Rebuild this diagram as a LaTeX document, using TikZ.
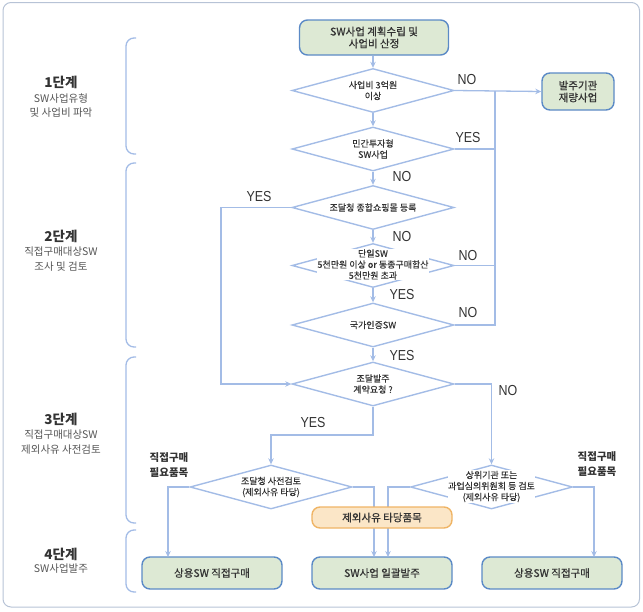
\documentclass[tikz,border=0pt]{standalone}
\usepackage{fontspec}
\setmainfont{Noto Sans CJK KR}
\newfontfamily\medfont[FakeBold=0.7]{Noto Sans CJK KR}
\newfontfamily\semfont[FakeBold=0.3]{Noto Sans CJK KR}
\newfontfamily\narrow[FakeStretch=0.86]{Liberation Sans}
\usetikzlibrary{shapes.geometric,arrows.meta}
\definecolor{lineblue}{HTML}{A3BCE6}
\definecolor{boxblue}{HTML}{5B8AC6}
\definecolor{boxgreen}{HTML}{DDE9D4}
\definecolor{orfill}{HTML}{FBE6C7}
\definecolor{ordraw}{HTML}{EFB465}
\definecolor{framec}{HTML}{B7C3D6}
\definecolor{txt}{HTML}{333333}
\definecolor{subtxt}{HTML}{555555}
\begin{document}
\begin{tikzpicture}[x=1pt,y=-1pt,
 box/.style={draw=boxblue, fill=boxgreen, line width=1.4pt, rounded corners=8pt, align=center, font=\medfont\fontsize{10.5}{12}\selectfont, text=txt, inner sep=0pt},
 obox/.style={draw=ordraw, fill=orfill, line width=1.4pt, rounded corners=8pt, align=center, font=\medfont\fontsize{10.5}{12}\selectfont, text=txt, inner sep=0pt, minimum width=140pt, minimum height=21pt},
 dia/.style={draw=lineblue, line width=1.4pt, shape=diamond, minimum width=162pt, minimum height=44pt, inner sep=0pt},
 dtext/.style={align=center, font=\semfont\fontsize{9}{11}\selectfont, text=txt, inner sep=0pt},
 conn/.style={draw=lineblue, line width=1.3pt},
 arr/.style={conn, -{Stealth[length=6pt,width=5.5pt]}},
 yn/.style={font=\narrow\fontsize{14.5}{14.5}\selectfont, text=txt, inner sep=0pt},
 need/.style={align=center, font=\bfseries\fontsize{10.5}{15}\selectfont, text=txt, inner sep=0pt},
 sthead/.style={font=\bfseries\fontsize{13.5}{15}\selectfont, text=txt, inner sep=0pt},
 stsub/.style={align=center, font=\fontsize{10.5}{14.5}\selectfont, text=subtxt, inner sep=0pt},
 brk/.style={draw=lineblue, line width=1.3pt, rounded corners=8pt}
]
\useasboundingbox (0,0) rectangle (643,611);
\draw[framec, line width=1pt, rounded corners=8pt] (3,2.5) rectangle (639.5,607);

% stage brackets
\draw[brk] (136,38) -- (126,38) -- (126,154) -- (136,154);
\draw[brk] (136,163) -- (126,163) -- (126,347) -- (136,347);
\draw[brk] (136,357) -- (126,357) -- (126,523) -- (136,523);
\draw[brk] (136,530) -- (126,530) -- (126,592) -- (136,592);

% stage labels
\node[sthead] (s1h) at (61,82) {1단계};
\node[stsub] (s1s) at (61,105.5) {SW사업유형\\및 사업비 파악};
\node[sthead] (s2h) at (61,236) {2단계};
\node[stsub] (s2s) at (61,259) {직접구매대상SW\\조사 및 검토};
\node[sthead] (s3h) at (61,419) {3단계};
\node[stsub] (s3s) at (61,442) {직접구매대상SW\\제외사유 사전검토};
\node[sthead] (s4h) at (61,554) {4단계};
\node[stsub] (s4s) at (61,569) {SW사업발주};

% boxes
\node[box, minimum width=149pt, minimum height=35pt] (top) at (374,37.5) {SW사업 계획수립 및\\사업비 산정};
\node[box, minimum width=72pt, minimum height=37pt] (disc) at (578,91.5) {발주기관\\재량사업};
\node[box, minimum width=140pt, minimum height=32pt] (lbox) at (212,573) {상용SW 직접구매};
\node[box, minimum width=140pt, minimum height=32pt] (mbox) at (382,573) {SW사업 일괄발주};
\node[box, minimum width=140pt, minimum height=32pt] (rbox) at (552,573) {상용SW 직접구매};

% diamonds
\node[dia] (d1) at (373,90.5) {};
\node[dtext] at (d1) {사업비 3억원\\이상};
\node[dia] (d2) at (373,149) {};
\node[dtext] at (d2) {민간투자형\\SW사업};
\node[dia] (d3) at (373,207.5) {};
\node[dtext] at (d3) {조달청 종합쇼핑몰 등록};
\node[dia] (d4) at (373,265.5) {};
\node[dia] (d5) at (373,325) {};
\node[dtext] at (d5) {국가인증SW};
\node[dia] (d6) at (373,384) {};
\node[dtext] at (d6) {조달발주\\계약요청 ?};
\node[dia] (ld) at (271,487) {};
\node[dtext] at (ld) {조달청 사전검토\\(제외사유 타당)};
\node[dia] (rd) at (491.5,487) {};

% connectors
\draw[arr] (top.south -| d1.north) -- (d1.north);
\draw[arr] (d1.south) -- (d2.north);
\draw[arr] (d2.south) -- (d3.north);
\draw[arr] (d3.south) -- (d4.north);
\draw[arr] (d4.south) -- (d5.north);
\draw[arr] (d5.south) -- (d6.north);
\coordinate (rj) at (495,90.5);
\draw[arr] (d1.east) -- (disc.west);
\draw[conn] (d5.east) -| (rj);
\draw[conn] (d2.east) -- (d2.east -| rj);
\draw[conn] (d4.east) -- (d4.east -| rj);
\draw[arr] (d3.west) -- (221,207.5) |- (d6.west);
\draw[arr] (d6.south) -- (373,435) -| (ld.north);
\draw[arr] (d6.east) -| (rd.north);
\draw[arr] (ld.west) -| (168,557);
\draw[arr] (ld.east) -| (374,557);
\draw[arr] (rd.west) -| (388,557);
\draw[arr] (rd.east) -| (594,557);

% diamond texts drawn over lines
\node[dtext, fill=white, inner sep=0.5pt] at (373,264.5) {단일SW\\5천만원 이상 or 동종구매합산\\5천만원 초과};
\node[dtext, fill=white, inner sep=0.5pt] at (491.5,486.5) {상위기관 또는\\과업심의위원회 등 검토\\(제외사유 타당)};

\node[obox] (exc) at (382,517.5) {제외사유 타당품목};

% yes/no labels
\node[yn] at (467,80) {NO};
\node[yn] at (468,138) {YES};
\node[yn] at (402,177) {NO};
\node[yn] at (259,197) {YES};
\node[yn] at (402,237) {NO};
\node[yn] at (468,256) {NO};
\node[yn] at (402,295) {YES};
\node[yn] at (468,313) {NO};
\node[yn] at (402,356) {YES};
\node[yn] at (508,391) {NO};
\node[yn] at (313,423) {YES};

\node[need] (nl) at (169,465.5) {직접구매\\필요품목};
\node[need] (nr) at (597,464.5) {직접구매\\필요품목};
\end{tikzpicture}
\end{document}
